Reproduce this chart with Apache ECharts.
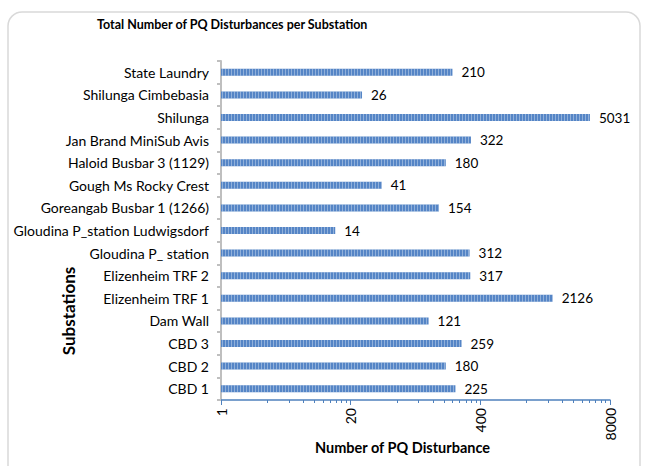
<!DOCTYPE html>
<html><head><meta charset="utf-8">
<script src="https://cdn.jsdelivr.net/npm/echarts@6/dist/echarts.min.js"></script>
<style>html,body{margin:0;padding:0;background:#fff}#c{width:648px;height:466px}</style>
</head><body><div id="c"></div>
<script>
const categories = ["CBD 1","CBD 2","CBD 3","Dam Wall","Elizenheim TRF 1","Elizenheim TRF 2","Gloudina P_ station","Gloudina P_station Ludwigsdorf","Goreangab Busbar 1 (1266)","Gough Ms Rocky Crest","Haloid Busbar 3 (1129)","Jan Brand MiniSub Avis","Shilunga","Shilunga Cimbebasia","State Laundry"];
const disturbances = [225,180,259,121,2126,317,312,14,154,41,180,322,5031,26,210];
const xTicks = [1,20,400,8000];
const font = "Lato,'Noto Sans',sans-serif";
const chart = echarts.init(document.getElementById('c'), null, {renderer:'svg'});
chart.setOption({
  animation:false,
  title:{text:'Total Number of PQ Disturbances per Substation',left:92,top:13,
    textStyle:{fontFamily:font,fontSize:12.5,fontWeight:'bold',color:'#000'}},
  graphic:[
    {type:'rect',shape:{x:8,y:12,width:632,height:480,r:14},style:{fill:'none',stroke:'#d9d9d9',lineWidth:1.5},z:-1},
    {type:'text',x:68,y:311,rotation:Math.PI/2,style:{text:'Substations',fontFamily:font,fontSize:17,fontWeight:'bold',fill:'#000',align:'center',verticalAlign:'middle'}}
  ],
  grid:{left:221,right:38,top:61,bottom:66,containLabel:false,outerBoundsMode:'none'},
  xAxis:{type:'log',logBase:20,min:xTicks[0],max:xTicks[xTicks.length-1],
    name:'Number of PQ Disturbance',nameLocation:'middle',nameGap:40,nameMoveOverlap:false,
    nameTextStyle:{fontFamily:font,fontSize:14.5,fontWeight:'bold',color:'#000',padding:[0,26,0,0]},
    axisLine:{show:true,lineStyle:{color:'#4f81bd',width:1.5}},
    axisTick:{show:true,length:5,lineStyle:{color:'#4f81bd'}},
    minorTick:{show:true,splitNumber:10,length:3,lineStyle:{color:'#4f81bd'}},
    splitLine:{show:false},
    axisLabel:{rotate:90,fontFamily:font,fontSize:14,color:'#000',margin:8,formatter:function(v){return String(v);}}},
  yAxis:{type:'category',data:categories,
    axisLine:{lineStyle:{color:'#bfbfbf',width:2}},
    axisTick:{show:true,length:4,lineStyle:{color:'#bfbfbf',width:2}},
    axisLabel:{fontFamily:font,fontSize:14,color:'#000',margin:12}},
  series:[{type:'bar',data:disturbances,barWidth:7,
    itemStyle:{color:'#5585c6',decal:{symbol:'rect',symbolSize:1,dashArrayX:[1,2],dashArrayY:[10,0],color:'rgba(255,255,255,0.35)',rotation:0}},
    label:{show:true,position:'right',distance:9,fontFamily:font,fontSize:13.5,color:'#000'}}]
});
</script></body></html>
